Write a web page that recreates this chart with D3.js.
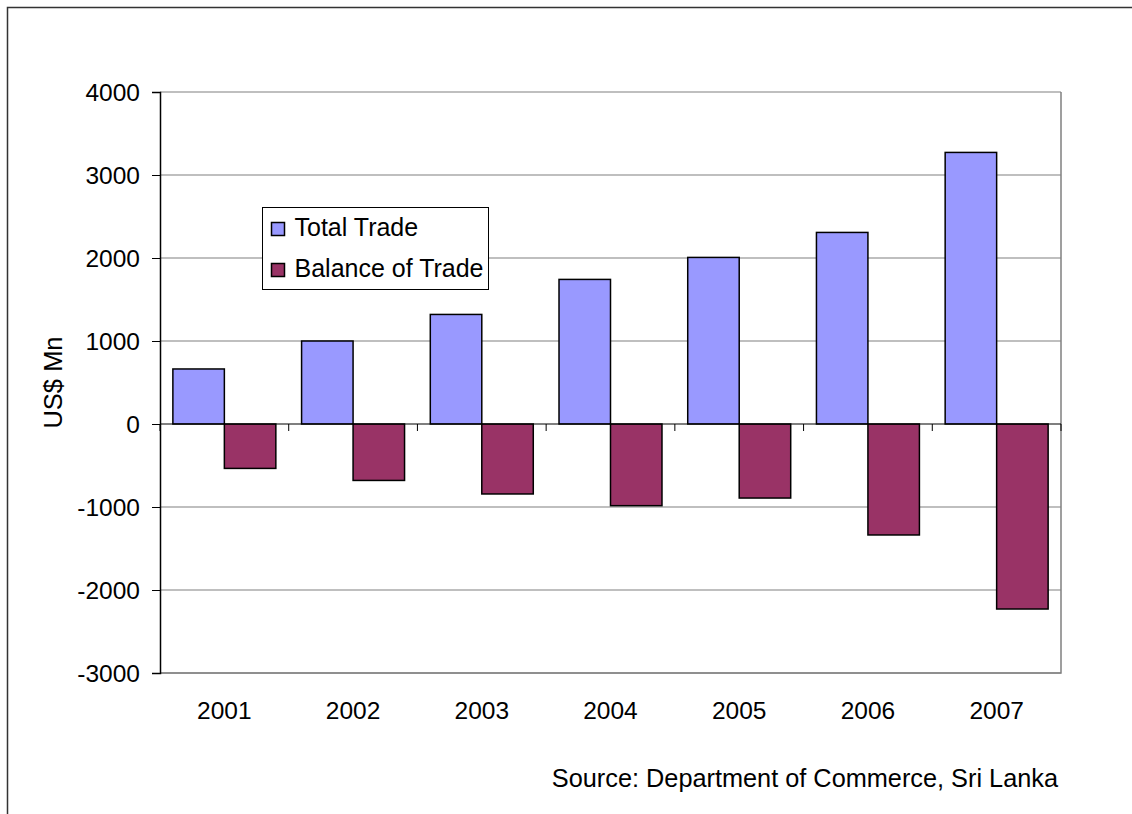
<!DOCTYPE html>
<html>
<head>
<meta charset="utf-8">
<script src="https://cdn.jsdelivr.net/npm/d3@7"></script>
<style>
  html, body { margin: 0; padding: 0; background: #fff; }
  svg { display: block; font-family: "Liberation Sans", Arial, sans-serif; }
</style>
</head>
<body>
<svg id="chart" width="1132" height="814"></svg>
<script>
// Sri Lanka trade figures, US$ million
const years = ["2001", "2002", "2003", "2004", "2005", "2006", "2007"];
const totalTrade = [663, 1000, 1320, 1742, 2007, 2308, 3272];
const balanceOfTrade = [-535, -680, -843, -984, -892, -1337, -2229];
const seriesNames = ["Total Trade", "Balance of Trade"];
const seriesColors = ["#9999FF", "#993366"];
const yTicks = [4000, 3000, 2000, 1000, 0, -1000, -2000, -3000];
const yLabel = "US$ Mn";
const sourceNote = "Source: Department of Commerce, Sri Lanka";

const svg = d3.select("#chart");
const plot = { left: 160, right: 1061, top: 92, bottom: 673 };

// outer chart frame (extends past the window on the right and bottom)
svg.append("rect")
  .attr("x", 7.5).attr("y", 7.5)
  .attr("width", 1200).attr("height", 900)
  .attr("fill", "none").attr("stroke", "#333").attr("stroke-width", 1.5);

const x = d3.scaleBand().domain(years).range([plot.left, plot.right]).padding(0);
const series = d3.scaleBand().domain(seriesNames)
  .range([0, x.bandwidth()]).paddingInner(0).paddingOuter(0.25);
const y = d3.scaleLinear().domain([-3000, 4000]).range([plot.bottom, plot.top]);

// horizontal gridlines
svg.append("g").selectAll("line").data(yTicks.filter(d => d !== 0)).join("line")
  .attr("x1", plot.left).attr("x2", plot.right)
  .attr("y1", d => y(d)).attr("y2", d => y(d))
  .attr("stroke", "#808080").attr("stroke-width", 1.2);

// plot area border on the right and bottom
svg.append("path")
  .attr("d", `M${plot.right},${plot.top}V${plot.bottom}H${plot.left}`)
  .attr("fill", "none").attr("stroke", "#808080").attr("stroke-width", 1.5);

// bars
const rows = years.map((yr, i) => ({ yr, vals: [totalTrade[i], balanceOfTrade[i]] }));
const groups = svg.append("g").selectAll("g").data(rows).join("g")
  .attr("transform", d => `translate(${x(d.yr)},0)`);
groups.selectAll("rect")
  .data(d => d.vals.map((v, k) => ({ v, name: seriesNames[k], k })))
  .join("rect")
  .attr("x", d => series(d.name))
  .attr("width", series.bandwidth())
  .attr("y", d => y(Math.max(0, d.v)))
  .attr("height", d => Math.abs(y(d.v) - y(0)))
  .attr("fill", d => seriesColors[d.k])
  .attr("stroke", "#000").attr("stroke-width", 1.5);

// category axis along zero, ticks between categories
const boundaries = years.map(yr => x(yr)).concat([plot.right]);
const xAxis = svg.append("g");
xAxis.append("line")
  .attr("x1", plot.left).attr("x2", plot.right)
  .attr("y1", y(0)).attr("y2", y(0))
  .attr("stroke", "#000").attr("stroke-width", 1.2);
xAxis.selectAll("line.tick").data(boundaries).join("line").attr("class", "tick")
  .attr("x1", d => d).attr("x2", d => d)
  .attr("y1", y(0)).attr("y2", y(0) + 7)
  .attr("stroke", "#000").attr("stroke-width", 1);

// category labels below the plot
svg.append("g").selectAll("text").data(years).join("text")
  .attr("x", d => x(d) + x.bandwidth() / 2)
  .attr("y", 719)
  .attr("text-anchor", "middle")
  .attr("font-size", 24.5)
  .attr("fill", "#000")
  .text(d => d);

// value axis
const yAxis = d3.axisLeft(y).tickValues(yTicks).tickSize(8).tickPadding(12)
  .tickFormat(d => String(d));
const gy = svg.append("g").attr("transform", `translate(${plot.left},0)`).call(yAxis);
gy.select(".domain").attr("stroke", "#000").attr("stroke-width", 1.5);
gy.selectAll(".tick line").attr("stroke", "#000").attr("stroke-width", 1);
gy.selectAll(".tick text")
  .attr("font-size", 24.5).attr("font-family", "Liberation Sans, Arial, sans-serif")
  .attr("fill", "#000").attr("dy", "0.36em");

// axis title
svg.append("text")
  .attr("transform", `translate(61.5,${(plot.top + plot.bottom) / 2}) rotate(-90)`)
  .attr("text-anchor", "middle")
  .attr("font-size", 25.5)
  .attr("fill", "#000")
  .text(yLabel);

// legend
const legend = svg.append("g");
legend.append("rect")
  .attr("x", 262.5).attr("y", 207.5).attr("width", 226).attr("height", 82)
  .attr("fill", "#fff").attr("stroke", "#000").attr("stroke-width", 1);
const items = legend.selectAll("g.item").data(seriesNames).join("g").attr("class", "item")
  .attr("transform", (d, i) => `translate(0,${i * 41})`);
items.append("rect")
  .attr("x", 271.5).attr("y", 222.5).attr("width", 13).attr("height", 13)
  .attr("fill", (d, i) => seriesColors[i]).attr("stroke", "#000").attr("stroke-width", 1.5);
items.append("text")
  .attr("x", 294.5).attr("y", 235.5)
  .attr("font-size", 25)
  .attr("fill", "#000")
  .text(d => d);

// source note
svg.append("text")
  .attr("x", 1058).attr("y", 787)
  .attr("text-anchor", "end")
  .attr("font-size", 25.3)
  .attr("fill", "#000")
  .text(sourceNote);
</script>
</body>
</html>
